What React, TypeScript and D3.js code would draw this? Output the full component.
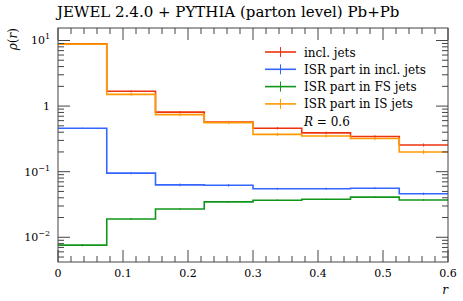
import React from "react";
import * as d3 from "d3";

// bin edges in r
const edges = [0, 0.075, 0.15, 0.225, 0.3, 0.375, 0.45, 0.525, 0.6];

// rho(r) per bin
const inclJets = [8.9, 1.68, 0.81, 0.57, 0.46, 0.39, 0.343, 0.255];
const isrIncl = [0.46, 0.095, 0.063, 0.062, 0.055, 0.055, 0.056, 0.046];
const isrFS = [0.0076, 0.019, 0.027, 0.0347, 0.0367, 0.038, 0.041, 0.037];
const isrIS = [8.8, 1.51, 0.74, 0.56, 0.37, 0.35, 0.32, 0.2];

// statistical errors (absolute)
const inclErr = [0.15, 0.06, 0.03, 0.025, 0.02, 0.018, 0.016, 0.014];
const isrInclErr = [0.01, 0.004, 0.003, 0.003, 0.002, 0.002, 0.002, 0.002];
const isrFSErr = [0.0003, 0.0006, 0.0008, 0.001, 0.001, 0.001, 0.0012, 0.0011];
const isrISErr = [0.15, 0.08, 0.04, 0.03, 0.02, 0.02, 0.018, 0.015];

const legendLabels = [
  "incl. jets",
  "ISR part in incl. jets",
  "ISR part in FS jets",
  "ISR part in IS jets",
];

const xTicks = [0, 0.1, 0.2, 0.3, 0.4, 0.5, 0.6];
const xTickLabels = ["0", "0.1", "0.2", "0.3", "0.4", "0.5", "0.6"];
const yDecades = [-2, -1, 0, 1];

const W = 463;
const H = 301;
const margin = { left: 58, right: 15, top: 28, bottom: 39 };
const FONT = "DejaVu Serif, serif";

const series = [
  { vals: inclJets, errs: inclErr, color: "#ee3311" },
  { vals: isrIncl, errs: isrInclErr, color: "#3366ff" },
  { vals: isrFS, errs: isrFSErr, color: "#109618" },
  { vals: isrIS, errs: isrISErr, color: "#ff9900" },
];

const App: React.FC = () => {
  const x = d3
    .scaleLinear()
    .domain([0, 0.6])
    .range([margin.left, W - margin.right]);
  const y = d3
    .scaleLog()
    .domain([0.0042, 15.5])
    .range([H - margin.bottom, margin.top]);

  const [x0, x1] = x.range();
  const [y0, y1] = y.range();

  const line = d3
    .line<[number, number]>()
    .x((d) => x(d[0]))
    .y((d) => y(d[1]))
    .curve(d3.curveStepAfter);

  const minorX = d3.range(0, 0.6001, 0.02).filter((v) => Math.abs(v * 10 - Math.round(v * 10)) > 1e-6);
  const minorY: number[] = [];
  for (let e = -3; e <= 1; e++) {
    for (let k = 2; k <= 9; k++) {
      const v = k * Math.pow(10, e);
      if (v > y.domain()[0] && v < y.domain()[1]) minorY.push(v);
    }
  }

  const axisColor = "#444";

  return (
    <svg
      width={W}
      height={H}
      style={{ position: "absolute", left: 0, top: 0, background: "#fff", fontFamily: FONT }}
    >
      {/* title */}
      <text x={57} y={17} fontSize={15} fill="#000">
        JEWEL 2.4.0 + PYTHIA (parton level) Pb+Pb
      </text>

      {/* data */}
      <g fill="none" strokeWidth={1.6}>
        {series.map((s, i) => {
          const pts: [number, number][] = s.vals.map((v, j) => [edges[j], v]);
          pts.push([edges[edges.length - 1], s.vals[s.vals.length - 1]]);
          return (
            <g key={i} stroke={s.color}>
              <path d={line(pts) ?? ""} />
              {s.vals.map((v, j) => {
                const c = (edges[j] + edges[j + 1]) / 2;
                return (
                  <line
                    key={j}
                    x1={x(c)}
                    x2={x(c)}
                    y1={y(v + s.errs[j])}
                    y2={y(Math.max(v - s.errs[j], 1e-6))}
                    strokeWidth={1}
                  />
                );
              })}
            </g>
          );
        })}
      </g>

      {/* frame */}
      <rect
        x={x0}
        y={y1}
        width={x1 - x0}
        height={y0 - y1}
        fill="none"
        stroke={axisColor}
        strokeWidth={1}
      />

      {/* ticks */}
      <g stroke={axisColor} strokeWidth={1}>
        {xTicks.map((t) => (
          <g key={t}>
            <line x1={x(t)} x2={x(t)} y1={y0} y2={y0 - 12} />
            <line x1={x(t)} x2={x(t)} y1={y1} y2={y1 + 12} />
          </g>
        ))}
        {minorX.map((t) => (
          <g key={t}>
            <line x1={x(t)} x2={x(t)} y1={y0} y2={y0 - 6} />
            <line x1={x(t)} x2={x(t)} y1={y1} y2={y1 + 6} />
          </g>
        ))}
        {yDecades.map((e) => {
          const v = Math.pow(10, e);
          return (
            <g key={e}>
              <line x1={x0} x2={x0 + 12} y1={y(v)} y2={y(v)} />
              <line x1={x1} x2={x1 - 12} y1={y(v)} y2={y(v)} />
            </g>
          );
        })}
        {minorY.map((v) => (
          <g key={v}>
            <line x1={x0} x2={x0 + 6} y1={y(v)} y2={y(v)} />
            <line x1={x1} x2={x1 - 6} y1={y(v)} y2={y(v)} />
          </g>
        ))}
      </g>

      {/* x tick labels */}
      <g fontSize={11} textAnchor="middle" fill="#000">
        {xTicks.map((t, i) => (
          <text key={t} x={x(t)} y={y0 + 15}>
            {xTickLabels[i]}
          </text>
        ))}
      </g>
      <text x={x1} y={y0 + 32} fontSize={12} fontStyle="italic" textAnchor="end">
        r
      </text>

      {/* y tick labels */}
      <g fontSize={11} textAnchor="end" fill="#000">
        {yDecades.map((e) =>
          e === 0 ? (
            <text key={e} x={x0 - 8} y={y(1) + 4}>
              1
            </text>
          ) : (
            <text key={e} x={x0 - 8} y={y(Math.pow(10, e)) + 4}>
              10
              <tspan dy={-5} fontSize={8}>
                {e < 0 ? `\u2212${-e}` : `${e}`}
              </tspan>
            </text>
          )
        )}
      </g>
      <text
        transform={`translate(17, ${y1}) rotate(-90)`}
        fontSize={12}
        textAnchor="end"
        fill="#000"
      >
        <tspan fontStyle="italic">ρ</tspan>(<tspan fontStyle="italic">r</tspan>)
      </text>

      {/* legend */}
      <g fontSize={12} fill="#000">
        {legendLabels.map((lab, i) => {
          const ly = 52 + i * 17.3;
          return (
            <g key={lab}>
              <line x1={265} x2={296} y1={ly} y2={ly} stroke={series[i].color} strokeWidth={1.6} />
              <line x1={280.5} x2={280.5} y1={ly - 5} y2={ly + 5} stroke={series[i].color} strokeWidth={1} />
              <text x={304} y={ly + 4.5}>
                {lab}
              </text>
            </g>
          );
        })}
        <text x={304} y={52 + 4 * 17.3 + 4.5}>
          <tspan fontStyle="italic">R</tspan> = 0.6
        </text>
      </g>
    </svg>
  );
};

export default App;
